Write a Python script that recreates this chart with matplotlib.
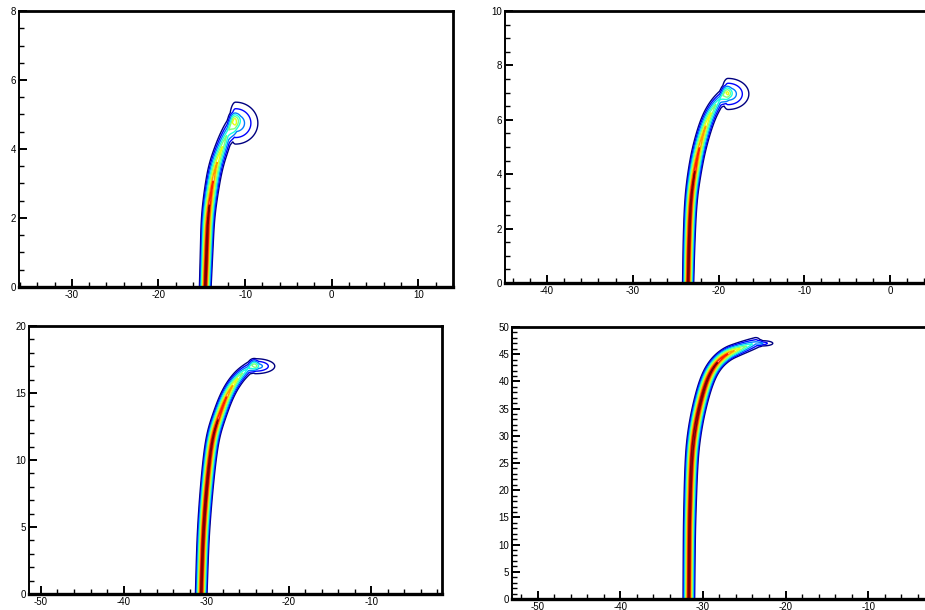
import numpy as np
import matplotlib
matplotlib.use("Agg")
import matplotlib.pyplot as plt
from matplotlib.ticker import MultipleLocator

plt.rcParams['font.family'] = ['Liberation Sans Narrow', 'Liberation Sans', 'DejaVu Sans']
plt.rcParams['axes.unicode_minus'] = False

# contour levels (normalised concentration)
levels = [0.1, 0.2, 0.3, 0.4, 0.5, 0.6, 0.7, 0.8, 0.9]

# --- panel 1: plume centreline, half width and peak ---
p1_x = [-14.6, -14.45, -14.3, -13.9, -13.4, -12.6, -11.9, -11.3]
p1_y = [0.0, 1.0, 2.0, 2.8, 3.5, 4.1, 4.55, 4.85]
p1_w = [0.75, 0.8, 0.86, 0.92, 0.96, 0.96, 0.92, 0.88]
p1_a = [1.0, 1.0, 0.95, 0.85, 0.73, 0.6, 0.45, 0.3]
# head: centre x, centre y, left spread, right spread, vertical spread, peak
p1_head = (-11.1, 4.75, 1.0, 3.6, 0.85, 0.45)

# --- panel 2 ---
p2_x = [-23.55, -23.45, -23.25, -22.85, -22.25, -21.3, -20.3, -19.2]
p2_y = [0.0, 1.5, 3.0, 4.0, 5.0, 6.0, 6.6, 7.0]
p2_w = [0.72, 0.76, 0.8, 0.86, 0.9, 0.92, 0.9, 0.88]
p2_a = [1.0, 1.0, 0.97, 0.92, 0.8, 0.68, 0.5, 0.3]
p2_head = (-18.9, 6.95, 1.0, 3.4, 0.8, 0.45)

# --- panel 3 ---
p3_x = [-30.6, -30.45, -30.3, -30.0, -29.6, -29.2, -28.6, -27.4, -26.0, -24.4]
p3_y = [0.0, 3.0, 5.0, 7.5, 10.0, 11.7, 13.0, 15.0, 16.3, 17.1]
p3_w = [0.78, 0.8, 0.82, 0.85, 0.88, 0.9, 0.92, 0.92, 0.9, 0.86]
p3_a = [1.0, 1.0, 1.0, 1.0, 0.97, 0.95, 0.91, 0.8, 0.58, 0.3]
p3_head = (-24.0, 17.0, 1.0, 3.3, 0.8, 0.42)

# --- panel 4 ---
p4_x = [-31.7, -31.65, -31.6, -31.4, -31.1, -30.5, -29.6, -28.6, -27.2, -25.6, -23.6]
p4_y = [0.0, 10.0, 15.0, 25.0, 30.0, 35.0, 40.0, 43.0, 45.0, 46.0, 47.1]
p4_w = [0.78, 0.8, 0.82, 0.86, 0.9, 0.92, 0.95, 0.95, 0.95, 0.92, 0.88]
p4_a = [1.0, 1.0, 1.0, 1.0, 1.0, 0.99, 0.97, 0.93, 0.85, 0.62, 0.35]
p4_head = (-22.8, 47.0, 0.8, 2.1, 0.8, 0.3)

panels = [
    dict(cx=p1_x, cy=p1_y, cw=p1_w, ca=p1_a, head=p1_head,
         xlim=(-36.1, 14.0), ylim=(0, 8), ymaj=2, ymin=0.5,
         pos=[19, 11, 453, 287]),
    dict(cx=p2_x, cy=p2_y, cw=p2_w, ca=p2_a, head=p2_head,
         xlim=(-44.9, 5.0), ylim=(0, 10), ymaj=2, ymin=0.5,
         pos=[505, 11, 933, 283]),
    dict(cx=p3_x, cy=p3_y, cw=p3_w, ca=p3_a, head=p3_head,
         xlim=(-51.45, -1.45), ylim=(0, 20), ymaj=5, ymin=1,
         pos=[29, 326, 442, 594]),
    dict(cx=p4_x, cy=p4_y, cw=p4_w, ca=p4_a, head=p4_head,
         xlim=(-53.1, -3.0), ylim=(0, 50), ymaj=5, ymin=1,
         pos=[512, 327, 926, 599]),
]

W_PX, H_PX = 925, 610


def chaikin(pts, n=4):
    """Corner cutting so the centreline has no kinks (endpoints kept)."""
    for _ in range(n):
        q = 0.75 * pts[:-1] + 0.25 * pts[1:]
        r = 0.25 * pts[:-1] + 0.75 * pts[1:]
        mid = np.empty((2 * len(q), pts.shape[1]))
        mid[0::2] = q
        mid[1::2] = r
        pts = np.vstack([pts[:1], mid[1:-1], pts[-1:]])
    return pts


def plume_field(X, Y, cx, cy, cw, ca, head, r):
    """Tent-shaped plume around the centreline plus a cone at the head.
    r = screen aspect (px per y unit / px per x unit)."""
    pts = chaikin(np.column_stack([cx, np.array(cy) * r, cw, ca]))
    best = np.full(X.shape, np.inf)
    wid = np.ones(X.shape)
    amp = np.zeros(X.shape)
    Ys = Y * r
    for i in range(len(pts) - 1):
        x0, y0, w0, a0 = pts[i]
        x1, y1, w1, a1 = pts[i + 1]
        vx, vy = x1 - x0, y1 - y0
        t = np.clip(((X - x0) * vx + (Ys - y0) * vy) / (vx * vx + vy * vy), 0, 1)
        d = np.hypot(X - (x0 + t * vx), Ys - (y0 + t * vy))
        m = d < best
        best = np.where(m, d, best)
        wid = np.where(m, w0 + t * (w1 - w0), wid)
        amp = np.where(m, a0 + t * (a1 - a0), amp)
    z = amp * np.clip(1 - best / wid, 0, None)
    hx, hy, sxl, sxr, hsy, ha = head
    sx = np.where(X < hx, sxl, sxr)
    rr = np.hypot((X - hx) / sx, (Y - hy) / hsy)
    z += ha * np.clip(1 - rr, 0, None) ** 1.2
    return z


fig = plt.figure(figsize=(W_PX / 100, H_PX / 100), dpi=100)

for p in panels:
    l, t, rgt, b = p['pos']
    ax = fig.add_axes([l / W_PX, 1 - b / H_PX, (rgt - l) / W_PX, (b - t) / H_PX])
    ax.set_xlim(*p['xlim'])
    ax.set_ylim(*p['ylim'])

    # screen pixels per unit, so widths are measured as on screen
    sx = (rgt - l) / (p['xlim'][1] - p['xlim'][0])
    sy = (b - t) / (p['ylim'][1] - p['ylim'][0])
    r = sy / sx

    gx = np.linspace(min(p['cx']) - 3, max(p['cx']) + 6, 700)
    gy = np.linspace(0, max(p['cy']) + 3.5 / r + 0.5, 700)
    X, Y = np.meshgrid(gx, gy)
    Z = plume_field(X, Y, p['cx'], p['cy'], p['cw'], p['ca'], p['head'], r)
    ax.contour(X, Y, Z, levels=levels, cmap='jet', linewidths=1.0)

    ax.xaxis.set_major_locator(MultipleLocator(10))
    ax.xaxis.set_minor_locator(MultipleLocator(2))
    ax.yaxis.set_major_locator(MultipleLocator(p['ymaj']))
    ax.yaxis.set_minor_locator(MultipleLocator(p['ymin']))
    ax.tick_params(which='both', direction='in', top=False, right=False,
                   labelsize=7, pad=2)
    ax.tick_params(which='major', length=6, width=1.4)
    ax.tick_params(which='minor', length=3.5, width=1.0)
    for side, lw in [('bottom', 2.4), ('top', 2.0), ('left', 1.4), ('right', 2.0)]:
        ax.spines[side].set_linewidth(lw)

fig.savefig('out.png', dpi=100)
